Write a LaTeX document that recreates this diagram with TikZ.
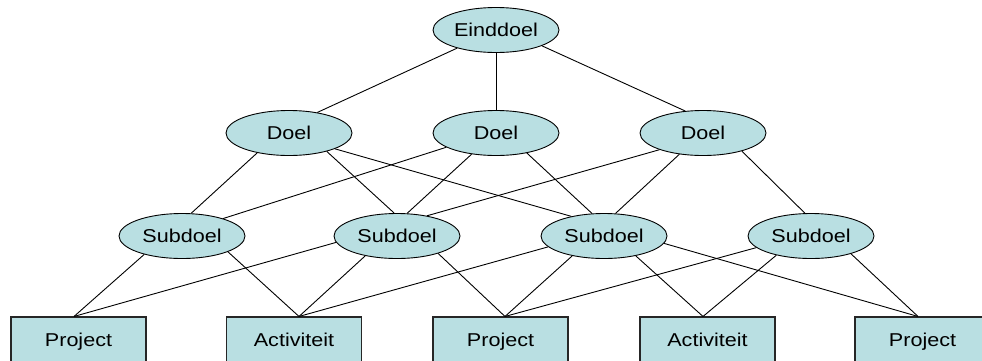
\documentclass[tikz,border=0pt]{standalone}
\usepackage{fontspec}
\setmainfont{Liberation Sans}[FakeStretch=1.16]
\usetikzlibrary{shapes.geometric}
\definecolor{boxfill}{RGB}{185,223,226}
\tikzset{
  goal/.style={ellipse, draw=black, line width=0.9pt, fill=boxfill, inner sep=0pt,
    minimum width=126pt, minimum height=45pt, text height=13.3pt, text depth=0pt,
    font=\fontsize{18.6}{22}\selectfont},
  task/.style={rectangle, draw=black!85, line width=1.1pt, fill=boxfill, inner sep=0pt,
    minimum width=135pt, minimum height=46pt, text height=13.3pt, text depth=0pt,
    font=\fontsize{18.6}{22}\selectfont},
  link/.style={draw=black, line width=0.9pt}
}
\begin{document}
\begin{tikzpicture}[x=1pt,y=-1pt]
\useasboundingbox (0,0) rectangle (982,360);
\clip (0,0) rectangle (982,360);
% goals
\node[goal] (e) at (496,30) {Einddoel};
\node[goal] (d1) at (289,133) {Doel};
\node[goal] (d2) at (496,133) {Doel};
\node[goal] (d3) at (703,133) {Doel};
\node[goal] (s1) at (182,236) {Subdoel};
\node[goal] (s2) at (397,236) {Subdoel};
\node[goal] (s3) at (604,236) {Subdoel};
\node[goal] (s4) at (811,236) {Subdoel};
% tasks
\node[task] (p1) at (78.5,340) {Project};
\node[task] (a1) at (294,340) {Activiteit};
\node[task] (p2) at (500.5,340) {Project};
\node[task] (a2) at (707.5,340) {Activiteit};
\node[task] (p3) at (922.5,340) {Project};
% connectors: top level
\draw[link] (e.-155) -- (d1.36);
\draw[link] (e.south) -- (d2.north);
\draw[link] (e.-19) -- (d3.129);
% doel -> subdoel
\draw[link] (d1.-148.5) -- (s1.68.6);
\draw[link] (d1.-26) -- (s2.97);
\draw[link] (d1.-19) -- (s3.149.3);
\draw[link] (d2.-164.6) -- (s1.23.7);
\draw[link] (d2.-139.6) -- (s2.66.5);
\draw[link] (d2.-33.7) -- (s3.118.6);
\draw[link] (d3.-159.7) -- (s2.34);
\draw[link] (d3.-138.5) -- (s3.63.4);
\draw[link] (d3.-25.9) -- (s4.105);
% subdoel -> tasks
\draw[link] (s1.-154) -- ([xshift=-4.5pt]p1.north);
\draw[link] (s1.-19.6) -- ([xshift=5pt]a1.north);
\draw[link] (s2.-174.6) -- ([xshift=-4.5pt]p1.north);
\draw[link] (s2.-148.8) -- ([xshift=5pt]a1.north);
\draw[link] (s2.-23.7) -- ([xshift=4.5pt]p2.north);
\draw[link] (s3.-169) -- ([xshift=5pt]a1.north);
\draw[link] (s3.-148.3) -- ([xshift=4.5pt]p2.north);
\draw[link] (s3.-32.5) -- ([xshift=-4.5pt]a2.north);
\draw[link] (s3.-7.5) -- ([xshift=-4.5pt]p3.north);
\draw[link] (s4.-168.3) -- ([xshift=4.5pt]p2.north);
\draw[link] (s4.-151) -- ([xshift=-4.5pt]a2.north);
\draw[link] (s4.-24.2) -- ([xshift=-4.5pt]p3.north);
\end{tikzpicture}
\end{document}
